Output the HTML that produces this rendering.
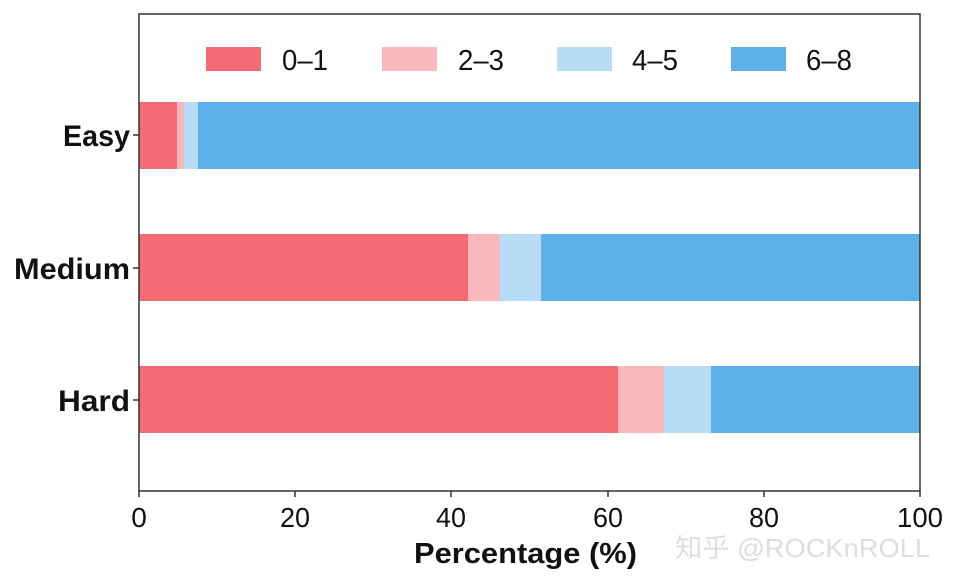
<!DOCTYPE html>
<html><head><style>body{margin:0;background:#fff}svg{display:block}</style></head><body>
<svg width="954" height="586" xmlns="http://www.w3.org/2000/svg" font-family="Liberation Sans, DejaVu Sans, sans-serif">
<rect width="954" height="586" fill="#fff"/>
<rect x="139" y="102" width="38" height="67" fill="#f56b74"/>
<rect x="177" y="102" width="7" height="67" fill="#f9b8bb"/>
<rect x="184" y="102" width="14" height="67" fill="#b8dcf5"/>
<rect x="198" y="102" width="722" height="67" fill="#5eb0ea"/>
<rect x="139" y="234" width="329" height="67" fill="#f56b74"/>
<rect x="468" y="234" width="32" height="67" fill="#f9b8bb"/>
<rect x="500" y="234" width="41" height="67" fill="#b8dcf5"/>
<rect x="541" y="234" width="379" height="67" fill="#5eb0ea"/>
<rect x="139" y="366" width="479" height="67" fill="#f56b74"/>
<rect x="618" y="366" width="46" height="67" fill="#f9b8bb"/>
<rect x="664" y="366" width="47" height="67" fill="#b8dcf5"/>
<rect x="711" y="366" width="209" height="67" fill="#5eb0ea"/>
<rect x="139" y="14" width="781" height="477" fill="none" stroke="#333" stroke-width="1.5"/>
<rect x="206" y="47" width="55" height="24" fill="#f56b74"/>
<text x="282" y="70" font-size="29" fill="#111" textLength="46" lengthAdjust="spacingAndGlyphs">0–1</text>
<rect x="382" y="47" width="55" height="24" fill="#f9b8bb"/>
<text x="458" y="70" font-size="29" fill="#111" textLength="46" lengthAdjust="spacingAndGlyphs">2–3</text>
<rect x="557" y="47" width="55" height="24" fill="#b8dcf5"/>
<text x="632" y="70" font-size="29" fill="#111" textLength="46" lengthAdjust="spacingAndGlyphs">4–5</text>
<rect x="731" y="47" width="55" height="24" fill="#5eb0ea"/>
<text x="806" y="70" font-size="29" fill="#111" textLength="46" lengthAdjust="spacingAndGlyphs">6–8</text>
<g font-size="30" font-weight="bold" fill="#111">
<text x="63" y="146" textLength="67" lengthAdjust="spacingAndGlyphs">Easy</text>
<text x="14" y="279" textLength="116" lengthAdjust="spacingAndGlyphs">Medium</text>
<text x="58" y="411" textLength="72" lengthAdjust="spacingAndGlyphs">Hard</text>
</g>
<g stroke="#333" stroke-width="1.5">
<line x1="133" y1="135" x2="139" y2="135"/><line x1="133" y1="268" x2="139" y2="268"/><line x1="133" y1="400" x2="139" y2="400"/>
<line x1="139" y1="491" x2="139" y2="497"/><line x1="295" y1="491" x2="295" y2="497"/><line x1="451" y1="491" x2="451" y2="497"/><line x1="608" y1="491" x2="608" y2="497"/><line x1="764" y1="491" x2="764" y2="497"/><line x1="920" y1="491" x2="920" y2="497"/>
</g>
<g font-size="28" text-anchor="middle" fill="#111">
<text x="139" y="527">0</text><text x="295" y="527" textLength="30" lengthAdjust="spacingAndGlyphs">20</text><text x="451" y="527" textLength="30" lengthAdjust="spacingAndGlyphs">40</text><text x="608" y="527" textLength="30" lengthAdjust="spacingAndGlyphs">60</text><text x="764" y="527" textLength="30" lengthAdjust="spacingAndGlyphs">80</text><text x="920" y="527" textLength="46" lengthAdjust="spacingAndGlyphs">100</text>
</g>
<text x="414" y="563" font-size="29" font-weight="bold" fill="#111" textLength="223" lengthAdjust="spacingAndGlyphs">Percentage (%)</text>
<text x="675" y="557" font-size="26" fill="#ddd" font-family="Liberation Sans, Noto Sans CJK SC, sans-serif" textLength="255" lengthAdjust="spacingAndGlyphs">知乎 @ROCKnROLL</text>
</svg>
</body></html>
